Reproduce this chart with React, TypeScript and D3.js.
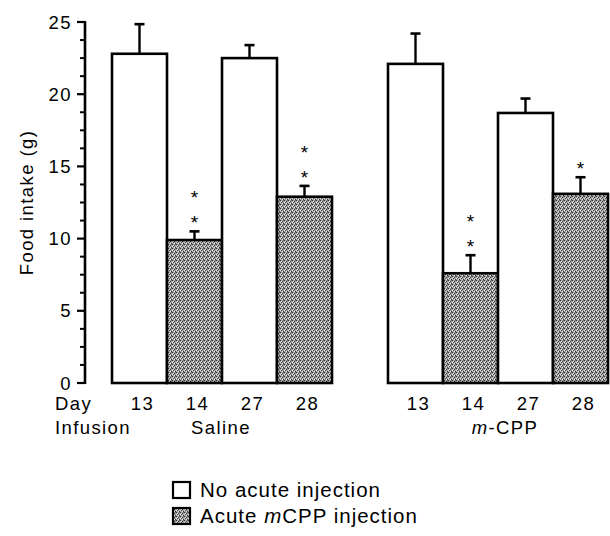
import React from 'react';
import * as d3 from 'd3';

// chart data
const days = ['13', '14', '27', '28'];
const acute = [false, true, false, true];
const salineMeans = [22.8, 9.9, 22.5, 12.9];
const salineSem = [2.05, 0.6, 0.9, 0.75];
const salineStars = [0, 2, 0, 2];
const mcppMeans = [22.1, 7.6, 18.7, 13.1];
const mcppSem = [2.1, 1.25, 1.0, 1.15];
const mcppStars = [0, 2, 0, 1];
const yTicks = [0, 5, 10, 15, 20, 25];

const W = 610;
const H = 536;
const FONT = 'Arial, "Liberation Sans", Helvetica, sans-serif';
const FS = 18.5;
const LS = 1.4;

const y = d3.scaleLinear().domain([0, 25]).range([383, 22]);
const xSaline = d3.scaleBand().domain(days).range([112, 332]).padding(0);
const xMcpp = d3.scaleBand().domain(days).range([388, 608]).padding(0);
const minorTicks = d3.range(0, 25.01, 1.25).filter(v => v % 5 !== 0);

const Group = ({ x, means, sem, stars }: any) => (
    <g>
        {days.map((d, i) => {
            const x0 = x(d);
            const bw = x.bandwidth();
            const cx = x0 + bw / 2;
            const top = y(means[i]);
            const errTop = y(means[i] + sem[i]);
            return (
                <g key={d}>
                    <rect x={x0} y={top} width={bw} height={y(0) - top}
                        fill={acute[i] ? 'url(#stipple)' : '#fff'}
                        stroke="#000" strokeWidth={2.6} />
                    <line x1={cx} x2={cx} y1={top} y2={errTop} stroke="#000" strokeWidth={2.4} />
                    <line x1={cx - 5} x2={cx + 5} y1={errTop} y2={errTop} stroke="#000" strokeWidth={2.6} />
                    {d3.range(stars[i]).map(k => (
                        <text key={k} x={cx} y={errTop - 13 - k * 25 + 11} textAnchor="middle"
                            fontSize={19} fontFamily={FONT}>*</text>
                    ))}
                    <text x={cx + 3} y={410} textAnchor="middle" fontSize={FS} letterSpacing={LS}
                        fontFamily={FONT}>{d}</text>
                </g>
            );
        })}
    </g>
);

export default function App() {
    return (
        <svg width={W} height={H} style={{ position: 'absolute', left: 0, top: 0, background: '#fff' }}>
            <defs>
                <pattern id="stipple" width={4} height={4} patternUnits="userSpaceOnUse">
                    <rect width={4} height={4} fill="#a6a6a6" />
                    <rect x={0} y={0} width={1} height={1} fill="#333" />
                    <rect x={2} y={1} width={1} height={1} fill="#333" />
                    <rect x={1} y={2} width={1} height={1} fill="#4a4a4a" />
                    <rect x={3} y={3} width={1} height={1} fill="#333" />
                    <rect x={2} y={3} width={1} height={1} fill="#e8e8e8" />
                    <rect x={0} y={2} width={1} height={1} fill="#e0e0e0" />
                    <rect x={3} y={0} width={1} height={1} fill="#6a6a6a" />
                    <rect x={1} y={1} width={1} height={1} fill="#ddd" />
                </pattern>
            </defs>

            {/* y axis */}
            <line x1={85} x2={85} y1={y(25) - 1} y2={y(0) + 1} stroke="#000" strokeWidth={2.6} />
            {yTicks.map(t => (
                <g key={t}>
                    <line x1={77} x2={85} y1={y(t)} y2={y(t)} stroke="#000" strokeWidth={2.2} />
                    <text x={72} y={y(t) + 6.5} textAnchor="end" fontSize={FS} letterSpacing={LS}
                        fontFamily={FONT}>{t}</text>
                </g>
            ))}
            {minorTicks.map(t => (
                <line key={t} x1={80} x2={85} y1={y(t)} y2={y(t)} stroke="#000" strokeWidth={2} />
            ))}
            <text transform={`translate(33,${(y(0) + y(25)) / 2}) rotate(-90)`} textAnchor="middle"
                fontSize={FS} letterSpacing={LS} fontFamily={FONT}>Food intake (g)</text>

            <Group x={xSaline} means={salineMeans} sem={salineSem} stars={salineStars} />
            <Group x={xMcpp} means={mcppMeans} sem={mcppSem} stars={mcppStars} />

            <text x={55} y={410} fontSize={FS} letterSpacing={LS} fontFamily={FONT}>Day</text>
            <text x={55} y={434} fontSize={FS} letterSpacing={LS} fontFamily={FONT}>Infusion</text>
            <text x={221} y={434} textAnchor="middle" fontSize={FS} letterSpacing={LS}
                fontFamily={FONT}>Saline</text>
            <text x={505} y={434} textAnchor="middle" fontSize={FS} letterSpacing={LS} fontFamily={FONT}>
                <tspan fontStyle="italic">m</tspan>-CPP
            </text>

            {/* legend */}
            <rect x={173} y={482} width={17} height={16} fill="#fff" stroke="#000" strokeWidth={2.2} />
            <text x={200} y={497} fontSize={20.5} letterSpacing={1} fontFamily={FONT}>No acute injection</text>
            <rect x={173} y={508} width={17} height={16} fill="url(#stipple)" stroke="#000" strokeWidth={2.2} />
            <text x={200} y={523} fontSize={20.5} letterSpacing={1} fontFamily={FONT}>
                Acute <tspan fontStyle="italic">m</tspan>CPP injection
            </text>
        </svg>
    );
}
